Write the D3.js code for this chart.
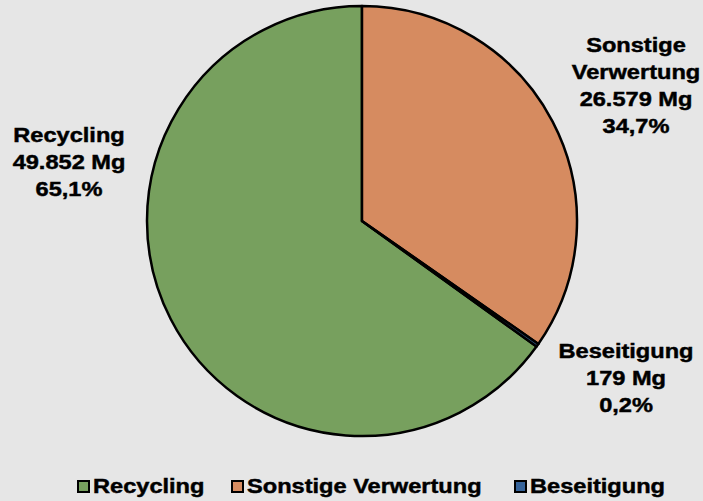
<!DOCTYPE html>
<html>
<head>
<meta charset="utf-8">
<script src="https://cdn.jsdelivr.net/npm/d3@7"></script>
<style>
  body { margin: 0; background: #e6e6e6; }
  svg { display: block; }
  text { font-family: "Liberation Sans", Arial, sans-serif; font-weight: bold; fill: #000; stroke: #000; stroke-width: 0.45px; }
</style>
</head>
<body>
<svg></svg>
<script>
// Data (legend order)
const categories = ["Recycling", "Sonstige Verwertung", "Beseitigung"];
const values = [49852, 26579, 179];
const colors = ["#77a05e", "#d68b60", "#35639a"];
// label lines per slice
const labelNames = [["Recycling"], ["Sonstige", "Verwertung"], ["Beseitigung"]];

const width = 703, height = 501;
const cx = 362, cy = 221, radius = 215;

const de = d3.formatLocale({decimal: ",", thousands: ".", grouping: [3], currency: ["", " €"]});
const fmtNum = de.format(",d");
const fmtPct = de.format(".1%");

const svg = d3.select("svg")
    .attr("width", width)
    .attr("height", height);

const total = d3.sum(values);

// first slice starts so that it ends at 12 o'clock
const start = -values[0] / total * 2 * Math.PI;
const pie = d3.pie()
    .sort(null)
    .startAngle(start)
    .endAngle(start + 2 * Math.PI);

const arc = d3.arc().innerRadius(0).outerRadius(radius);

const arcs = pie(values);

svg.append("g")
    .attr("transform", `translate(${cx},${cy})`)
  .selectAll("path")
  .data(arcs)
  .join("path")
    .attr("d", arc)
    .attr("fill", (d, i) => colors[i])
    .attr("stroke", "#000")
    .attr("stroke-width", 2.5)
    .attr("stroke-linejoin", "round");

// data labels (positions chosen by eye)
const labelPos = [[69, 142], [636, 52], [626, 358]];
const lineH = 27;
const sx = 1.18;

arcs.forEach((d, i) => {
    const lines = labelNames[i].concat([fmtNum(values[i]) + " Mg", fmtPct(values[i] / total)]);
    const g = svg.append("g")
        .attr("transform", `translate(${labelPos[i][0]},${labelPos[i][1]}) scale(${sx},1)`);
    g.selectAll("text")
      .data(lines)
      .join("text")
        .attr("y", (t, j) => j * lineH)
        .attr("text-anchor", "middle")
        .attr("font-size", "20px")
        .text(t => t);
});

// legend
const legendX = [78, 232, 515];
const legendY = 493;
const lg = svg.append("g");
categories.forEach((c, i) => {
    lg.append("rect")
        .attr("x", legendX[i])
        .attr("y", legendY - 12)
        .attr("width", 11)
        .attr("height", 11)
        .attr("fill", colors[i])
        .attr("stroke", "#000")
        .attr("stroke-width", 2);
    lg.append("text")
        .attr("transform", `translate(${legendX[i] + 15},${legendY}) scale(${sx},1)`)
        .attr("font-size", "20px")
        .text(c);
});
</script>
</body>
</html>
